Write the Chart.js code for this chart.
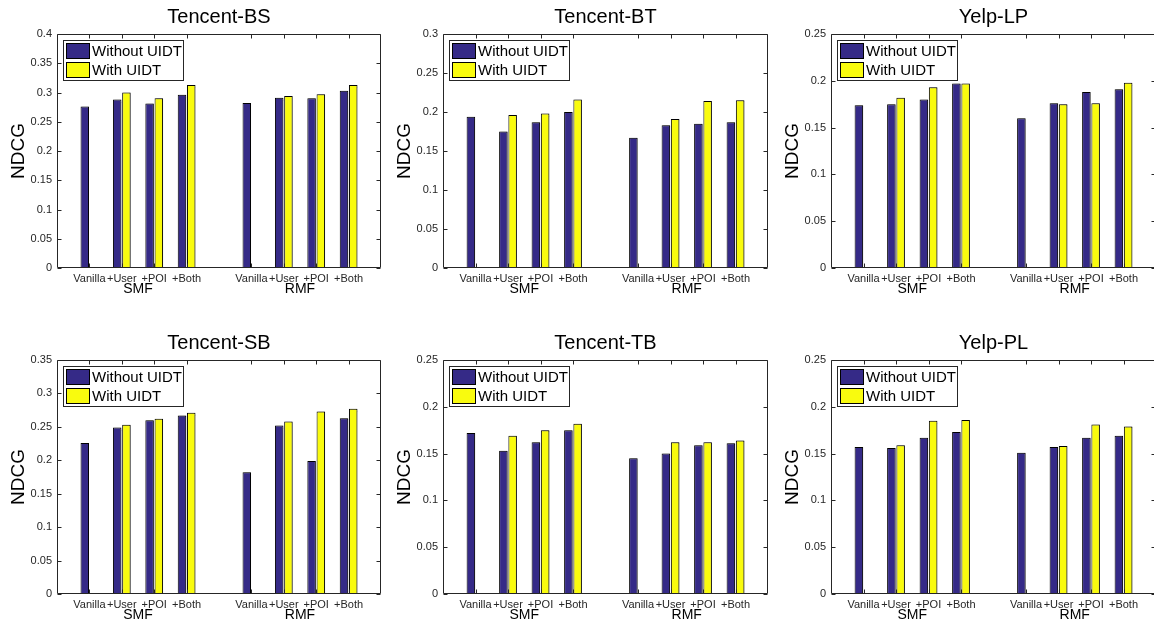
<!DOCTYPE html>
<html lang="en">
<head>
<meta charset="UTF-8">
<title>NDCG with and without UIDT</title>
<script src="https://cdn.jsdelivr.net/npm/chart.js"></script>
<style>
  body {
    margin: 0;
    padding: 0;
    background: #fff;
    width: 1154px;
    height: 624px;
    overflow: hidden;
    position: relative;
  }
  .panel {
    position: absolute;
  }
</style>
</head>
<body>

<div class="panel" style="left:0px;top:0px"><canvas id="c0" width="381" height="300"></canvas></div>
<div class="panel" style="left:386px;top:0px"><canvas id="c1" width="382" height="300"></canvas></div>
<div class="panel" style="left:774px;top:0px"><canvas id="c2" width="382" height="300"></canvas></div>
<div class="panel" style="left:0px;top:326px"><canvas id="c3" width="381" height="300"></canvas></div>
<div class="panel" style="left:386px;top:326px"><canvas id="c4" width="382" height="300"></canvas></div>
<div class="panel" style="left:774px;top:326px"><canvas id="c5" width="382" height="300"></canvas></div>

<script>
// data (SMF: Vanilla, +User, +POI, +Both, then RMF: same)
const methods = ['Vanilla', '+User', '+POI', '+Both'];
const models = ['SMF', 'RMF'];
const seriesNames = ['Without UIDT', 'With UIDT'];
const titles = ['Tencent-BS', 'Tencent-BT', 'Yelp-LP', 'Tencent-SB', 'Tencent-TB', 'Yelp-PL'];
const yMax = [0.4, 0.3, 0.25, 0.35, 0.25, 0.25];

const bsWithout = [0.276, 0.288, 0.281, 0.296, 0.282, 0.291, 0.290, 0.303];
const bsWith    = [0,     0.300, 0.290, 0.313, 0,     0.294, 0.297, 0.313];
const btWithout = [0.194, 0.175, 0.187, 0.200, 0.167, 0.183, 0.185, 0.187];
const btWith    = [0,     0.196, 0.198, 0.216, 0,     0.191, 0.214, 0.215];
const lpWithout = [0.174, 0.175, 0.180, 0.197, 0.160, 0.176, 0.188, 0.191];
const lpWith    = [0,     0.182, 0.193, 0.197, 0,     0.175, 0.176, 0.198];
const sbWithout = [0.226, 0.249, 0.260, 0.267, 0.182, 0.252, 0.199, 0.263];
const sbWith    = [0,     0.253, 0.262, 0.271, 0,     0.258, 0.273, 0.277];
const tbWithout = [0.172, 0.153, 0.162, 0.175, 0.145, 0.150, 0.159, 0.161];
const tbWith    = [0,     0.169, 0.175, 0.182, 0,     0.162, 0.162, 0.164];
const plWithout = [0.157, 0.156, 0.167, 0.173, 0.151, 0.157, 0.167, 0.169];
const plWith    = [0,     0.159, 0.185, 0.186, 0,     0.158, 0.181, 0.179];

const withoutSets = [bsWithout, btWithout, lpWithout, sbWithout, tbWithout, plWithout];
const withSets = [bsWith, btWith, lpWith, sbWith, tbWith, plWith];

const blue = '#352a87';
const yellow = '#f9fb0e';
const axisColor = '#262626';
const fontFamily = "'Liberation Sans', Arial, sans-serif";

Chart.defaults.font.family = fontFamily;

// empty slot at both ends and between the two groups
const xLabels = ['', ...methods, '', ...methods, ''];
function pad(arr) {
    return [null, ...arr.slice(0, 4), null, ...arr.slice(4), null];
}

// matlab style box with inward ticks, plus the SMF / RMF group names
const frameAndTicks = {
    id: 'frameAndTicks',
    beforeDatasetsDraw(chart) {
        const ctx = chart.ctx;
        ctx.save();
        ctx.shadowColor = 'rgba(0,0,0,0.3)';
        ctx.shadowOffsetX = 1.5;
        ctx.shadowOffsetY = 0;
        ctx.shadowBlur = 1;
    },
    afterDatasetsDraw(chart) {
        const { ctx, chartArea: a, scales } = chart;
        ctx.restore();
        const l = Math.round(a.left) + 0.5, r = Math.round(a.right) - 0.5;
        const t = Math.round(a.top) + 0.5, b = Math.round(a.bottom) - 0.5;
        ctx.save();
        ctx.strokeStyle = axisColor;
        ctx.lineWidth = 1;
        ctx.beginPath();
        ctx.rect(l, t, r - l, b - t);
        scales.y.ticks.forEach((tk, i) => {
            const y = Math.round(scales.y.getPixelForTick(i)) + 0.5;
            ctx.moveTo(l, y); ctx.lineTo(l + 4, y);
            ctx.moveTo(r, y); ctx.lineTo(r - 4, y);
        });
        scales.x.ticks.forEach((tk, i) => {
            if (!tk.label) return;
            const x = Math.round(scales.x.getPixelForTick(i)) + 0.5;
            ctx.moveTo(x, b); ctx.lineTo(x, b - 4);
            ctx.moveTo(x, t); ctx.lineTo(x, t + 4);
        });
        ctx.stroke();

        // group names centred between +User and +POI of each group
        ctx.fillStyle = '#000';
        ctx.font = '14px ' + fontFamily;
        ctx.textAlign = 'center';
        ctx.textBaseline = 'middle';
        models.forEach((m, g) => {
            const base = 1 + g * 5;
            const x = (scales.x.getPixelForValue(base + 1) + scales.x.getPixelForValue(base + 2)) / 2;
            ctx.fillText(m, x, a.bottom + 21);
        });
        ctx.restore();
    }
};

// boxed legend in the top-left corner of the plot
const boxLegend = {
    id: 'boxLegend',
    afterDraw(chart) {
        const { ctx, chartArea: a } = chart;
        const x0 = Math.round(a.left) + 6.5, y0 = Math.round(a.top) + 6.5;
        ctx.save();
        ctx.lineWidth = 1;
        ctx.fillStyle = '#fff';
        ctx.strokeStyle = axisColor;
        ctx.fillRect(x0, y0, 120, 40);
        ctx.strokeRect(x0, y0, 120, 40);
        chart.data.datasets.forEach((ds, i) => {
            const sy = y0 + 3 + i * 19;
            ctx.fillStyle = ds.backgroundColor;
            ctx.fillRect(x0 + 3, sy, 23, 15);
            ctx.strokeStyle = '#000';
            ctx.strokeRect(x0 + 3, sy, 23, 15);
            ctx.fillStyle = '#000';
            ctx.font = '15px ' + fontFamily;
            ctx.textBaseline = 'middle';
            ctx.fillText(ds.label, x0 + 28.5, sy + 8);
        });
        ctx.restore();
    }
};

function makeChart(i) {
    const ctx = document.getElementById('c' + i).getContext('2d');
    return new Chart(ctx, {
        type: 'bar',
        data: {
            labels: xLabels,
            datasets: [{
                label: seriesNames[0],
                data: pad(withoutSets[i]),
                backgroundColor: blue,
                borderColor: '#000',
                borderWidth: 1
            }, {
                label: seriesNames[1],
                data: pad(withSets[i]),
                backgroundColor: yellow,
                borderColor: '#000',
                borderWidth: 1
            }]
        },
        options: {
            responsive: false,
            animation: false,
            layout: { padding: 0 },
            datasets: { bar: { categoryPercentage: 0.57, barPercentage: 0.92 } },
            plugins: {
                legend: { display: false },
                tooltip: { enabled: false },
                title: {
                    display: true,
                    text: titles[i],
                    fullSize: false,
                    color: '#000',
                    font: { size: 20, weight: 'normal' },
                    padding: { top: 5, bottom: 5 }
                }
            },
            scales: {
                x: {
                    type: 'category',
                    offset: false,
                    grid: { display: false, drawTicks: false },
                    border: { display: false },
                    ticks: {
                        autoSkip: false,
                        maxRotation: 0,
                        minRotation: 0,
                        padding: 0,
                        color: axisColor,
                        font: { size: 11, lineHeight: 2 }
                    },
                    afterFit: s => { s.height = 32; }
                },
                y: {
                    min: 0,
                    max: yMax[i],
                    grid: { display: false, drawTicks: false },
                    border: { display: false },
                    ticks: {
                        stepSize: 0.05,
                        padding: 5,
                        color: axisColor,
                        font: { size: 11 },
                        callback: v => String(+v.toFixed(2))
                    },
                    title: {
                        display: true,
                        text: 'NDCG',
                        color: '#000',
                        font: { size: 19 },
                        padding: { top: 7, bottom: 0 }
                    },
                    afterFit: s => { s.width = 57; }
                }
            }
        },
        plugins: [frameAndTicks, boxLegend]
    });
}

for (let i = 0; i < titles.length; i++) {
    makeChart(i);
}
</script>
</body>
</html>
